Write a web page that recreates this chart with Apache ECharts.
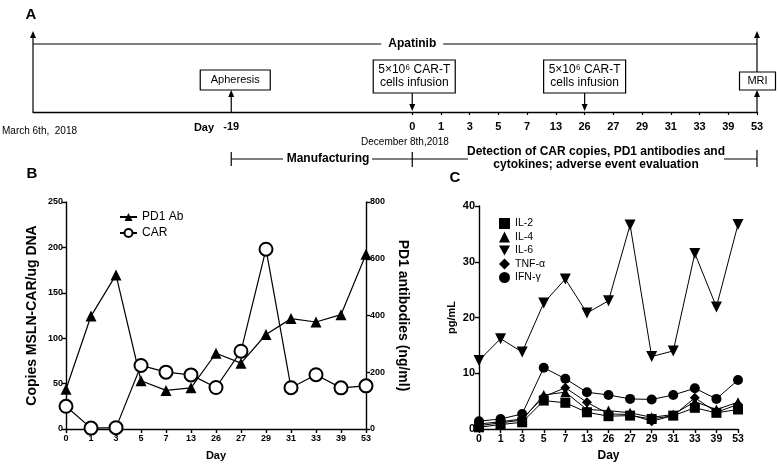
<!DOCTYPE html>
<html><head><meta charset="utf-8">
<script src="https://cdn.jsdelivr.net/npm/echarts@6/dist/echarts.min.js"></script>
<style>html,body{margin:0;padding:0;background:#fff}#c{width:778px;height:469px}</style>
</head><body><div id="c"></div>
<script>
// ---- data ----
const days = ['0','1','3','5','7','13','26','27','29','31','33','39','53'];
const carCopies = [25,1,1.5,70,62.6,59.6,45.7,85.7,198,45.5,59.8,45.3,47.5];
const pd1Ab = [140,398,543,170,136,145,267,232,333,389,377,403,616];
const il2 = [0.3,0.8,1.2,5.1,4.7,3.0,2.3,2.4,1.8,2.4,3.8,2.9,3.5];
const il4 = [0.6,1.1,1.6,6.1,6.6,3.5,3.3,2.9,2.1,2.6,4.9,3.5,4.8];
const il6 = [12.3,16.2,13.8,22.6,26.9,20.8,23.0,36.6,13.0,14.0,31.5,21.9,36.7];
const tnf = [0.9,1.3,1.8,5.8,7.4,4.8,2.7,2.6,1.4,2.4,5.6,3.0,4.4];
const ifn = [1.4,1.8,2.7,11.0,9.0,6.6,6.1,5.4,5.3,6.1,7.3,5.4,8.8];
const cytokineNames = ['IL-2','IL-4','IL-6','TNF-α','IFN-γ'];
const apheresisDay = '-19';

// ---- layout ----
const F = 'Arial, "Liberation Sans", Helvetica, sans-serif';
const tlIdx = days.map((d,i)=>i);
const TL_START = -13.2, TL_APH = -6.3;
const chart = echarts.init(document.getElementById('c'));
const blk = {color:'#000', width:1.4};
const tickLbl = (fs)=>({color:'#000', fontWeight:'bold', fontSize:fs, fontFamily:F});

const option = {
  animation:false,
  textStyle:{fontFamily:F},
  grid:[
    {left:33, top:44, width:724, height:68},
    {left:66, top:202, width:300, height:227},
    {left:479, top:206, width:259, height:223}
  ],
  xAxis:[
    {gridIndex:0, type:'value', min:TL_START, max:12,
     axisLine:{show:true, onZero:false, lineStyle:{color:'#000', width:1.3}},
     axisTick:{show:true, customValues:tlIdx, length:3, lineStyle:{color:'#000', width:1.2}},
     axisLabel:Object.assign({customValues:[TL_APH].concat(tlIdx), margin:9,
       formatter:v=> (Math.abs(v-TL_APH)<0.01 ? apheresisDay : days[Math.round(v)])}, tickLbl(11)),
     splitLine:{show:false}},
    {gridIndex:1, type:'category', data:days, boundaryGap:false,
     axisLine:{lineStyle:blk}, axisTick:{length:4, lineStyle:blk},
     axisLabel:Object.assign({margin:5, interval:0}, tickLbl(9)),
     name:'Day', nameLocation:'middle', nameGap:21,
     nameTextStyle:{fontWeight:'bold', fontSize:11, color:'#000'}},
    {gridIndex:2, type:'category', data:days, boundaryGap:false,
     axisLine:{lineStyle:blk}, axisTick:{length:4, lineStyle:blk},
     axisLabel:Object.assign({margin:5, interval:0}, tickLbl(10.5)),
     name:'Day', nameLocation:'middle', nameGap:21,
     nameTextStyle:{fontWeight:'bold', fontSize:12, color:'#000'}}
  ],
  yAxis:[
    {gridIndex:0, type:'value', min:0, max:1, show:false},
    {gridIndex:1, type:'value', min:0, max:250, interval:50, position:'left',
     axisLine:{show:true, lineStyle:blk}, axisTick:{show:true, length:4, lineStyle:blk},
     axisLabel:Object.assign({margin:3}, tickLbl(9)), splitLine:{show:false},
     name:'Copies MSLN-CAR/ug DNA', nameLocation:'middle', nameGap:27,
     nameTextStyle:{fontWeight:'bold', fontSize:14, color:'#000'}},
    {gridIndex:1, type:'value', min:0, max:800, interval:200, position:'right',
     axisLine:{show:true, lineStyle:blk}, axisTick:{show:true, length:4, lineStyle:blk},
     axisLabel:Object.assign({margin:4}, tickLbl(9)), splitLine:{show:false},
     name:'PD1 antibodies (ng/ml)', nameLocation:'middle', nameGap:30, nameRotate:-90,
     nameTextStyle:{fontWeight:'bold', fontSize:14, color:'#000'}},
    {gridIndex:2, type:'value', min:0, max:40, interval:10,
     axisLine:{show:true, lineStyle:blk}, axisTick:{show:true, length:4, lineStyle:blk},
     axisLabel:Object.assign({margin:4}, tickLbl(11)), splitLine:{show:false},
     name:'pg/mL', nameLocation:'middle', nameGap:22,
     nameTextStyle:{fontWeight:'bold', fontSize:11, color:'#000'}}
  ],
  legend:[
    {data:['PD1 Ab','CAR'], orient:'vertical', left:114, top:206, itemWidth:17, itemHeight:10, itemGap:4,
     textStyle:{fontSize:12, color:'#000'}},
    {data:[{name:'IL-2', icon:'rect'},{name:'IL-4', icon:'triangle'},
           {name:'IL-6', icon:'path://M0,0L10,0L5,9Z'},{name:'TNF-α', icon:'diamond'},{name:'IFN-γ', icon:'circle'}],
     orient:'vertical', left:494, top:213, itemWidth:11, itemHeight:11, itemGap:2.5,
     textStyle:{fontSize:10.5, color:'#000'}}
  ],
  series:[
    {type:'line', xAxisIndex:0, yAxisIndex:0, data:[], silent:true},
    {name:'PD1 Ab', type:'line', xAxisIndex:1, yAxisIndex:2, data:pd1Ab, symbol:'triangle', symbolSize:11,
     itemStyle:{color:'#000'}, lineStyle:{color:'#000', width:1.2}, z:2},
    {name:'CAR', type:'line', xAxisIndex:1, yAxisIndex:1, data:carCopies, symbol:'emptyCircle', symbolSize:13,
     itemStyle:{color:'#000', borderWidth:1.2}, lineStyle:{color:'#000', width:1.2}, z:3},
    {name:'IL-6', type:'line', xAxisIndex:2, yAxisIndex:3, data:il6, symbol:'triangle', symbolRotate:180, symbolSize:11,
     itemStyle:{color:'#000'}, lineStyle:{color:'#000', width:1}},
    {name:'IL-2', type:'line', xAxisIndex:2, yAxisIndex:3, data:il2, symbol:'rect', symbolSize:10,
     itemStyle:{color:'#000'}, lineStyle:{color:'#000', width:1}},
    {name:'IL-4', type:'line', xAxisIndex:2, yAxisIndex:3, data:il4, symbol:'triangle', symbolSize:10,
     itemStyle:{color:'#000'}, lineStyle:{color:'#000', width:1}},
    {name:'TNF-α', type:'line', xAxisIndex:2, yAxisIndex:3, data:tnf, symbol:'diamond', symbolSize:10,
     itemStyle:{color:'#000'}, lineStyle:{color:'#000', width:1}},
    {name:'IFN-γ', type:'line', xAxisIndex:2, yAxisIndex:3, data:ifn, symbol:'circle', symbolSize:10,
     itemStyle:{color:'#000'}, lineStyle:{color:'#000', width:1}}
  ]
};
chart.setOption(option);

// ---- panel A annotations, positioned from the timeline axis ----
const X = v => chart.convertToPixel({xAxisIndex:0}, v);
const yBase = 112, yTop = 44;
const g = [];
const line = (x1,y1,x2,y2,w)=>g.push({type:'line', shape:{x1,y1,x2,y2}, style:{stroke:'#000', lineWidth:w||1.2}, z:10});
const head = (x,y,dir)=>{ const d = dir==='up'? 1 : -1;
  g.push({type:'polygon', shape:{points:[[x,y],[x-3,y+7*d],[x+3,y+7*d]]}, style:{fill:'#000'}, z:11}); };
const txt = (t,x,y,o)=>g.push({type:'text', z:12, style:Object.assign({text:t, x, y, fill:'#000', font:'12px '+F, align:'center', verticalAlign:'middle'}, o||{})});
const box = (cx,y1,y2,w)=>g.push({type:'rect', shape:{x:cx-w/2, y:y1, width:w, height:y2-y1}, style:{fill:'#fff', stroke:'#000', lineWidth:1.2}, z:10});

const xS = X(TL_START), xA = X(TL_APH), x0 = X(0), x26 = X(6), xE = X(12);
// Apatinib line
line(xS, yTop, xE, yTop);
txt('Apatinib', x0, yTop, {font:'bold 12px '+F, backgroundColor:'#fff', padding:[0,7]});
// left and right verticals with arrows
line(xS, yBase, xS, 37); head(xS, 31, 'up');
line(xE, 72, xE, 37); head(xE, 31, 'up');
line(xE, yBase, xE, 96); head(xE, 90, 'up');
box(xE+0.5, 72, 90, 36); txt('MRI', xE+0.5, 81, {font:'11px '+F});
// Apheresis
line(xA, yBase, xA, 96); head(xA, 90, 'up');
box(xA+4, 70, 90, 70); txt('Apheresis', xA+4, 80, {font:'11px '+F});
// infusions
[x0, x26].forEach((x,i)=>{
  const cx = i===0 ? x+2 : x;
  box(cx, 60, 93, 82);
  txt('5×10⁶ CAR-T', cx, 70, {font:'12px '+F});
  txt('cells infusion', cx, 83, {font:'12px '+F});
  line(x, 93, x, 105); head(x, 111, 'down');
});
// dates
txt('March 6th,  2018', 2, 131, {font:'10px '+F, align:'left'});
txt('Day', 204, 128, {font:'bold 11px '+F});
txt('December 8th,2018', 405, 142, {font:'10px '+F});
// phase brackets
const yP = 159;
line(xA, yP-7, xA, yP+7); line(x0, yP-7, x0, yP+8); line(xE, yP-9, xE, yP+8);
line(xA, yP, 283, yP); line(372, yP, 468, yP); line(724, yP, xE, yP);
txt('Manufacturing', 328, yP, {font:'bold 12px '+F});
txt('Detection of CAR copies, PD1 antibodies and', 596, 152, {font:'bold 12px '+F});
txt('cytokines; adverse event evaluation', 596, 165, {font:'bold 12px '+F});
// panel letters
txt('A', 31, 15, {font:'bold 15px '+F});
txt('B', 32, 174, {font:'bold 15px '+F});
txt('C', 455, 178, {font:'bold 15px '+F});
chart.setOption({graphic:g});
</script></body></html>
